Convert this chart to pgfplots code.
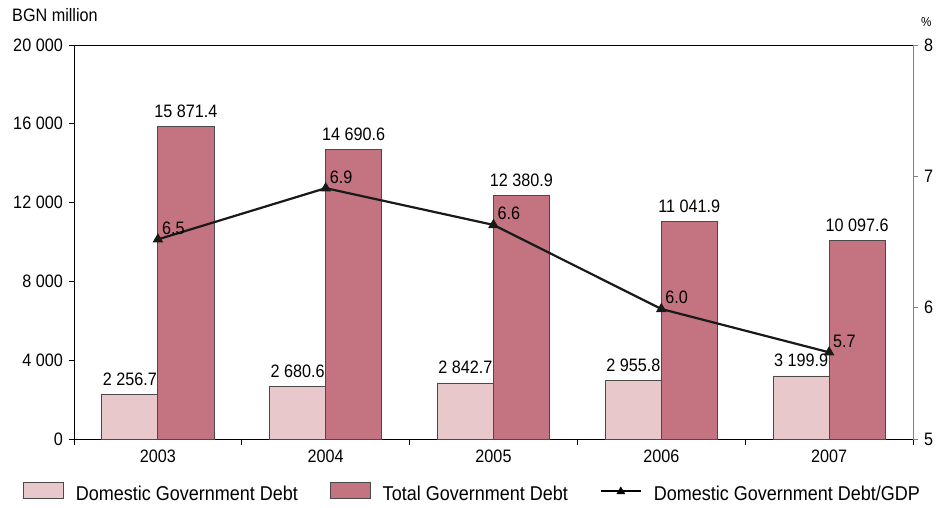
\documentclass[border=0pt]{standalone}
\usepackage{pgfplots}
\pgfplotsset{compat=1.18}
\usepackage{fontspec}
\setmainfont{Liberation Sans}[FakeStretch=0.9]
\definecolor{dom}{HTML}{E8C8CB}
\definecolor{tot}{HTML}{C47480}
\definecolor{edge}{HTML}{4A4A4A}
\begin{document}
\fontsize{18bp}{21bp}\selectfont
\begin{tikzpicture}
\useasboundingbox (-74bp,-69bp) rectangle (865bp,439bp);
\pgfplotsset{
  base/.style={
    scale only axis, width=839bp, height=394bp,
    xmin=-0.5, xmax=4.5,
    tick align=outside,
    /pgf/number format/assume math mode=true,
    tick label style={font=\fontsize{18bp}{21bp}\selectfont},
  }
}
\begin{axis}[base,
  ymin=0, ymax=20000,
  ybar=0pt, bar width=56bp,
  axis line style={black, line width=0.8bp},
  xtick={0,1,2,3,4}, xticklabels={2003,2004,2005,2006,2007},
  xtick pos=bottom, ytick pos=left,
  major x tick style={draw=none},
  minor xtick={-0.5,0.5,1.5,2.5,3.5,4.5},
  minor tick length=6bp, major tick length=5bp,
  ytick={0,4000,8000,12000,16000,20000},
  scaled y ticks=false,
  yticklabel style={/pgf/number format/.cd, 1000 sep={\ }},
  tick style={black, line width=0.8bp},
  nodes near coords,
  nodes near coords style={font=\fontsize{18bp}{21bp}\selectfont, anchor=base, yshift=9bp, inner sep=0pt,
    /pgf/number format/.cd, fixed, fixed zerofill, precision=1, 1000 sep={\ }},
  clip=false,
]
\addplot[fill=dom, draw=edge, line width=0.8bp] coordinates {(0,2256.7) (1,2680.6) (2,2842.7) (3,2955.8) (4,3199.9)};
\addplot[fill=tot, draw=edge, line width=0.8bp] coordinates {(0,15871.4) (1,14690.6) (2,12380.9) (3,11041.9) (4,10097.6)};
\node[anchor=base west, inner sep=0pt] at (rel axis cs:0,1) [xshift=-62bp, yshift=23bp] {BGN million};
\node[anchor=base west, inner sep=0pt, font=\fontsize{13bp}{15bp}\selectfont] at (rel axis cs:1,1) [xshift=8bp, yshift=18bp] {\%};
\end{axis}
\begin{axis}[base,
  ymin=5, ymax=8,
  axis y line*=right, axis x line=none,
  y axis line style={gray, line width=0.8bp},
  ytick={5,6,7,8}, major tick length=5bp,
  ytick style={gray, line width=0.8bp},
  yticklabel style={/pgf/number format/.cd, fixed},
  legend style={draw=none, fill=none, at={(0.5,-0.137)}, anchor=center, xshift=-22bp,
    legend columns=3, font=\fontsize{20bp}{23bp}\selectfont,
    nodes={inner sep=0pt},
    /tikz/every odd column/.append style={column sep=12bp},
    /tikz/every even column/.append style={column sep=32bp}},
  legend cell align=left,
  clip=false,
]
\addlegendimage{legend image code/.code={\draw[fill=dom, draw=edge, line width=0.8bp] (0bp,-4bp) rectangle (40bp,12bp);}}
\addlegendimage{legend image code/.code={\draw[fill=tot, draw=edge, line width=0.8bp] (0bp,-4bp) rectangle (40bp,12bp);}}
\addlegendimage{legend image code/.code={\draw[black, line width=2bp] (0bp,4bp) -- (40bp,4bp); \fill[black] (20bp,4bp) ++(-4bp,-3bp) -- ++(8bp,0) -- ++(-4bp,7bp) -- cycle;}}
\addplot[color=black!90, line width=2.2bp, mark=triangle*, mark size=4bp, mark options={solid},
  nodes near coords,
  nodes near coords style={font=\fontsize{18bp}{21bp}\selectfont, anchor=base west, xshift=3bp, yshift=5bp, inner sep=0pt, text=black,
    /pgf/number format/.cd, fixed, fixed zerofill, precision=1},
  forget plot]
  coordinates {(0,6.52) (1,6.91) (2,6.63) (3,5.99) (4,5.66)};
\legend{Domestic Government Debt, Total Government Debt, Domestic Government Debt/GDP}
\end{axis}
\end{tikzpicture}
\end{document}
